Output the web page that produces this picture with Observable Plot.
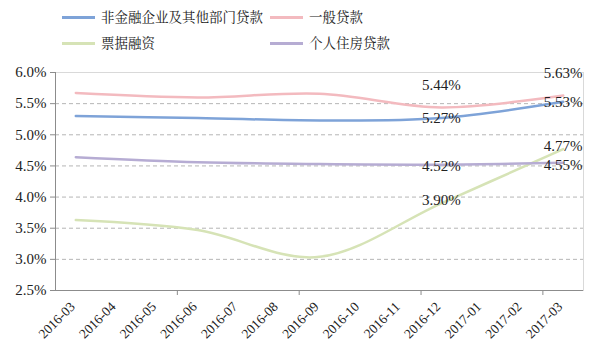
<!DOCTYPE html>
<html><head><meta charset="utf-8">
<script src="https://cdn.jsdelivr.net/npm/d3@7"></script>
<script src="https://cdn.jsdelivr.net/npm/@observablehq/plot@0.6"></script>
<style>
body{margin:0;background:#fff}
#wrap{position:relative;width:600px;height:358px}
.lg{position:absolute;font-family:"Noto Serif CJK SC","Noto Sans CJK SC";font-size:13.5px;color:#222;line-height:16px;white-space:nowrap}
.sw{position:absolute;height:2.5px}
#wrap svg text{font-family:"Liberation Serif","Times New Roman","DejaVu Serif",serif}
</style></head>
<body><div id="wrap"></div>
<script>
const months = ["2016-03","2016-04","2016-05","2016-06","2016-07","2016-08","2016-09","2016-10","2016-11","2016-12","2017-01","2017-02","2017-03"];
const dates = ["2016-03","2016-06","2016-09","2016-12","2017-03"];
const seriesNames = ["非金融企业及其他部门贷款","一般贷款","票据融资","个人住房贷款"];
const corp     = [5.30, 5.27, 5.23, 5.27, 5.53];
const general  = [5.67, 5.60, 5.66, 5.44, 5.63];
const bill     = [3.63, 3.47, 3.04, 3.90, 4.77];
const mortgage = [4.64, 4.56, 4.53, 4.52, 4.55];
const colors = ["#7ea3d8","#f3babf","#d6e3b6","#b6acd3"];
const yTicks = [2.5,3.0,3.5,4.0,4.5,5.0,5.5,6.0];
const labelDates = ["2016-12","2017-03"];

const seriesVals = [corp, general, bill, mortgage];
const rows = [];
seriesVals.forEach((vals, s) => vals.forEach((v, i) => rows.push({series: seriesNames[s], xi: months.indexOf(dates[i]), date: dates[i], v})));
const labels = rows.filter(d => labelDates.includes(d.date));
const fmt = d => d.v.toFixed(2) + "%";
const bySeries = n => labels.filter(d => d.series === n);

const plot = Plot.plot({
  width: 600, height: 358,
  marginLeft: 55, marginRight: 17, marginTop: 72, marginBottom: 68,
  style: {fontSize: "15px", color: "#222", background: "#fff"},
  x: {domain: [-0.5, 12.5], axis: null},
  y: {domain: [2.5, 6.0], axis: null},
  color: {domain: seriesNames, range: colors},
  marks: [
    Plot.gridY(yTicks.filter(t => t > 2.5 && t < 6), {stroke: "#b5b5b5", strokeOpacity: 1, strokeDasharray: "4,3"}),
    Plot.frame({stroke: "#d9d9d9"}),
    Plot.ruleX([-0.5], {stroke: "#8c8c8c"}),
    Plot.ruleY([2.5], {stroke: "#8c8c8c"}),
    Plot.axisY(yTicks, {label: null, tickFormat: d => d.toFixed(1) + "%", tickSize: 5, tickPadding: 4, stroke: "#8c8c8c", fill: "#222", fontSize: 15}),
    Plot.axisX([2.5, 5.5, 8.5, 11.5], {label: null, tickFormat: () => "", tickSize: 5, stroke: "#8c8c8c"}),
    Plot.text(d3.range(months.length), {x: d => d, frameAnchor: "bottom", text: d => months[d], rotate: -45, textAnchor: "end", dy: 17, dx: 0, fontSize: 13.5, fill: "#222"}),
    Plot.line(rows, {x: "xi", y: "v", z: "series", stroke: "series", strokeWidth: 2.5, curve: "cardinal"}),
    Plot.text(bySeries(seriesNames[0]), {x: "xi", y: "v", text: fmt, fontSize: 15, fill: "#222"}),
    Plot.text(bySeries(seriesNames[1]), {x: "xi", y: "v", text: fmt, dy: -22, fontSize: 15, fill: "#222"}),
    Plot.text(bySeries(seriesNames[2]), {x: "xi", y: "v", text: fmt, dy: -3, fontSize: 15, fill: "#222"}),
    Plot.text(bySeries(seriesNames[3]), {x: "xi", y: "v", text: fmt, dy: 2, fontSize: 15, fill: "#222"})
  ]
});
const wrap = document.getElementById("wrap");
wrap.appendChild(plot);

const legendPos = [[62,17],[270,17],[62,43],[270,43]];
seriesNames.forEach((n, i) => {
  const [x, y] = legendPos[i];
  const sw = document.createElement("div");
  sw.className = "sw";
  sw.style.cssText = `left:${x}px;top:${y-1}px;width:33px;background:${colors[i]}`;
  wrap.appendChild(sw);
  const t = document.createElement("div");
  t.className = "lg";
  t.textContent = n;
  t.style.left = (x + 39) + "px";
  t.style.top = (y - 9) + "px";
  wrap.appendChild(t);
});
</script>
</body></html>
